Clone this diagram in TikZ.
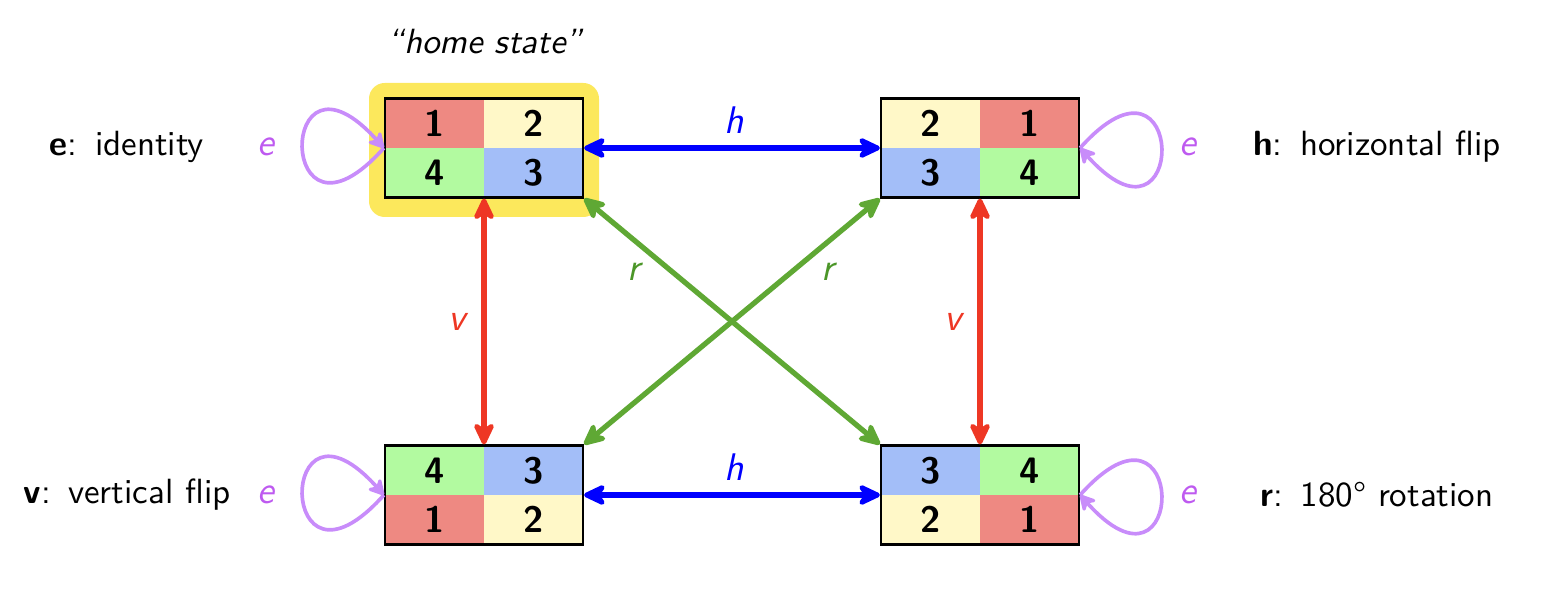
\documentclass[tikz,border=0pt]{standalone}
\usepackage{fontspec}
\usetikzlibrary{arrows.meta}
\definecolor{c1}{RGB}{238,137,130}
\definecolor{c2}{RGB}{255,248,200}
\definecolor{c3}{RGB}{163,190,248}
\definecolor{c4}{RGB}{178,250,160}
\definecolor{hl}{RGB}{252,232,92}
\definecolor{ared}{RGB}{238,55,36}
\definecolor{agreen}{RGB}{95,168,52}
\definecolor{lgreen}{RGB}{75,150,40}
\definecolor{ablue}{RGB}{0,0,255}
\definecolor{loopc}{RGB}{200,140,250}
\definecolor{elab}{RGB}{190,90,240}
\tikzset{
  cell/.style={minimum width=28.3pt,minimum height=14.15pt,inner sep=0pt,
    font=\sffamily\bfseries\fontsize{10.5}{12}\selectfont},
  stbox/.style={draw=black,line width=0.6pt,minimum width=56.6pt,
    minimum height=28.3pt,inner sep=0pt},
  lab/.style={font=\sffamily\itshape\fontsize{11}{13}\selectfont},
  homelab/.style={font=\sffamily\itshape},
  txt/.style={font=\sffamily},
  dbl/.style={line width=1.5pt,{Stealth[length=8pt,width=7.5pt,inset=2.6pt,round]}-{Stealth[length=8pt,width=7.5pt,inset=2.6pt,round]}},
  looparr/.style={draw=loopc,line width=1.05pt,-{Stealth[length=5.5pt,width=6pt,inset=1.8pt,round]}},
}
\newcommand\stbox[7]{% name, x, y, tl, tr, bl, br
  \node[cell,fill=c#4] (#1a) at (#2-49.5,#3-24.75) {#4};
  \node[cell,fill=c#5] (#1b) at (#2+49.5,#3-24.75) {#5};
  \node[cell,fill=c#6] (#1c) at (#2-49.5,#3+24.75) {#6};
  \node[cell,fill=c#7] (#1d) at (#2+49.5,#3+24.75) {#7};
  \node[stbox] (#1) at (#2,#3) {};
}
\begin{document}
\begin{tikzpicture}[x=0.2857pt,y=-0.2857pt]
\useasboundingbox (0,0) rectangle (1552,606);
% highlight
\fill[hl,rounded corners=4.5pt] (369,83) rectangle (599,217);
\node[homelab] (home) at (485,42) {``home state''};
% states
\stbox{TL}{484}{148}{1}{2}{4}{3}
\stbox{TR}{980}{148}{2}{1}{3}{4}
\stbox{BL}{484}{495}{4}{3}{1}{2}
\stbox{BR}{980}{495}{3}{4}{2}{1}
% horizontal
\draw[dbl,ablue] (TL.east) -- (TR.west);
\draw[dbl,ablue] (BL.east) -- (BR.west);
\node[lab,text=ablue] (h1) at (734,120) {h};
\node[lab,text=ablue] (h2) at (734,467) {h};
% vertical
\draw[dbl,ared] (TL.south) -- (BL.north);
\draw[dbl,ared] (TR.south) -- (BR.north);
\node[lab,text=ared] (v1) at (457,322) {v};
\node[lab,text=ared] (v2) at (953,322) {v};
% diagonals
\draw[dbl,agreen] (TL.south east) -- (BR.north west);
\draw[dbl,agreen] (TR.south west) -- (BL.north east);
\node[lab,text=lgreen] (r1) at (634,272) {r};
\node[lab,text=lgreen] (r2) at (828,272) {r};
% loops
\draw[looparr] (TL.west) .. controls +(-108,121) and +(-108,-121) .. (TL.west);
\draw[looparr] (BL.west) .. controls +(-108,121) and +(-108,-121) .. (BL.west);
\draw[looparr] (TR.east) .. controls +(108,-121) and +(108,121) .. (TR.east);
\draw[looparr] (BR.east) .. controls +(108,-121) and +(108,121) .. (BR.east);
\node[lab,text=elab] (e1) at (266,147) {e};
\node[lab,text=elab] (e2) at (266,495) {e};
\node[lab,text=elab] (e3) at (1188,147) {e};
\node[lab,text=elab] (e4) at (1188,495) {e};
% descriptions
\node[txt] (de) at (127,147) {\textbf{e}:\hspace{5pt}identity};
\node[txt] (dh) at (1377,147) {\textbf{h}:\hspace{5pt}horizontal flip};
\node[txt] (dv) at (127,495) {\textbf{v}:\hspace{5pt}vertical flip};
\node[txt] (dr) at (1377,495) {\textbf{r}:\hspace{5pt}180° rotation};
\end{tikzpicture}
\end{document}
